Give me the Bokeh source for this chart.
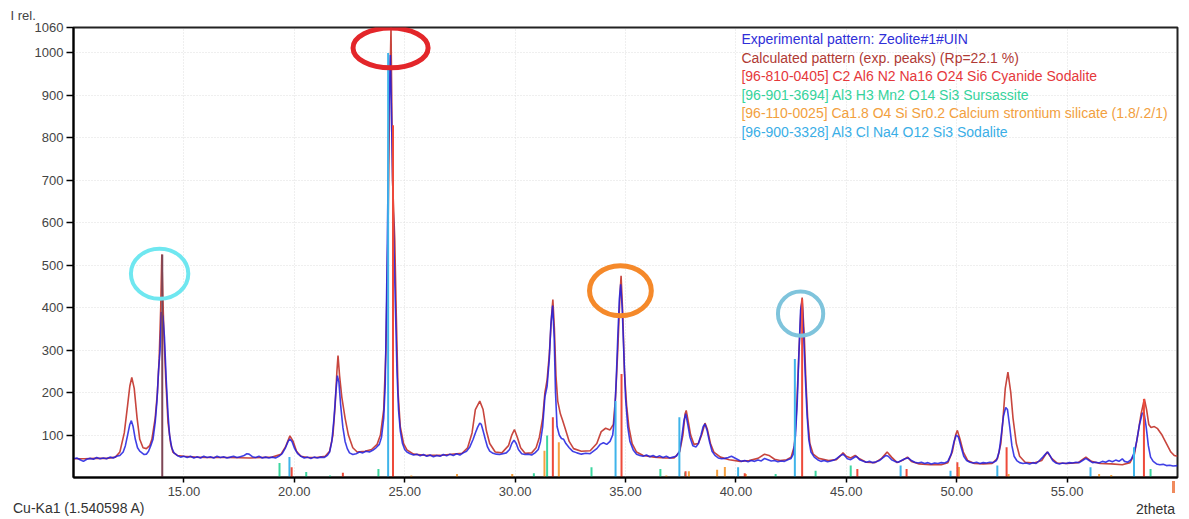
from bokeh.plotting import figure
from bokeh.layouts import column
from bokeh.models import FixedTicker, Label, Range1d, Title, Div
from bokeh.embed import file_html
from bokeh.resources import INLINE

# ---------------- data ----------------
calc_x = [10.0, 10.5, 11.0, 11.5, 11.9, 12.1, 12.3, 12.45, 12.55, 12.64, 12.75, 12.88, 13.0, 13.15, 13.3,
          13.45, 13.55, 13.7, 13.8, 13.88, 13.95, 14.0, 14.05, 14.1, 14.18, 14.28, 14.4, 14.5, 14.7, 15.0,
          15.5, 16.0, 17.0, 18.0, 19.0, 19.4, 19.6, 19.8, 19.95, 20.1, 20.3, 20.6, 21.0, 21.4, 21.6,
          21.75, 21.85, 21.93, 21.98, 22.05, 22.15, 22.3, 22.45, 22.65, 22.85, 23.2, 23.5, 23.75, 23.9, 24.05,
          24.15, 24.25, 24.32, 24.38, 24.45, 24.55, 24.62, 24.7, 24.8, 24.95, 25.1, 25.4, 26.0, 26.62, 27.0,
          27.6, 27.85, 28.05, 28.2, 28.4, 28.55, 28.7, 28.85, 29.1, 29.4, 29.7, 29.85, 29.97, 30.1, 30.25,
          30.45, 30.75, 30.95, 31.1, 31.25, 31.35, 31.45, 31.55, 31.65, 31.71, 31.78, 31.85, 31.93, 32.05, 32.15,
          32.3, 32.45, 32.65, 33.0, 33.4, 33.7, 33.9, 34.1, 34.3, 34.45, 34.55, 34.65, 34.75, 34.8, 34.88,
          34.95, 35.05, 35.15, 35.3, 35.5, 35.8, 36.3, 36.8, 37.2, 37.45, 37.6, 37.7, 37.75, 37.85, 37.95,
          38.1, 38.3, 38.45, 38.6, 38.7, 38.85, 39.0, 39.3, 39.7, 40.2, 40.6, 41.0, 41.3, 41.5, 41.75,
          42.0, 42.3, 42.5, 42.65, 42.75, 42.85, 42.95, 43.0, 43.1, 43.17, 43.25, 43.35, 43.5, 43.75, 44.2,
          44.55, 44.75, 44.85, 45.0, 45.2, 45.4, 45.6, 45.9, 46.3, 46.6, 46.85, 47.05, 47.3, 47.6, 47.77,
          47.95, 48.3, 48.8, 49.3, 49.6, 49.8, 49.95, 50.03, 50.15, 50.3, 50.5, 50.8, 51.2, 51.6, 51.85,
          52.0, 52.1, 52.2, 52.32, 52.45, 52.55, 52.7, 52.85, 53.1, 53.5, 53.85, 54.1, 54.3, 54.55, 55.0,
          55.5, 55.85, 56.1, 56.5, 57.0, 57.5, 57.85, 58.05, 58.2, 58.35, 58.5, 58.6, 58.7, 58.8, 58.95,
          59.1, 59.3, 59.5, 59.7, 59.85, 60.0]
calc_y = [44, 44, 45, 45, 48, 60, 105, 170, 215, 236, 210, 140, 90, 70, 68,
          75, 90, 140, 200, 280, 400, 525, 420, 330, 230, 130, 80, 60, 52, 50,
          48, 47, 47, 46, 48, 55, 72, 98, 85, 62, 50, 47, 47, 50, 62,
          100, 170, 250, 287, 240, 190, 140, 100, 70, 60, 62, 66, 78, 100, 160,
          300, 600, 900, 1060, 700, 560, 380, 200, 120, 80, 65, 55, 52, 52, 54,
          57, 70, 105, 160, 180, 160, 110, 80, 60, 58, 75, 100, 113, 95, 70,
          57, 58, 70, 95, 140, 200, 230, 290, 380, 419, 350, 240, 180, 150, 135,
          110, 85, 68, 62, 63, 80, 108, 116, 112, 125, 190, 300, 430, 475, 380,
          250, 170, 120, 80, 60, 52, 48, 46, 46, 60, 100, 150, 158, 130, 100,
          78, 80, 100, 128, 115, 80, 60, 48, 42, 38, 40, 45, 55, 52, 43,
          40, 42, 48, 75, 160, 290, 400, 424, 330, 228, 140, 80, 55, 45, 40,
          42, 52, 58, 50, 46, 52, 44, 36, 35, 45, 60, 48, 35, 42, 48,
          38, 32, 30, 30, 35, 60, 100, 111, 90, 60, 40, 33, 32, 33, 45,
          80, 140, 210, 248, 200, 140, 80, 50, 36, 34, 40, 60, 45, 34, 33,
          35, 48, 38, 33, 32, 30, 35, 55, 100, 150, 185, 160, 125, 118, 120,
          115, 100, 80, 60, 52, 50]

exp_x = [10.0, 10.15, 10.3, 10.45, 10.6, 10.75, 10.9, 11.05, 11.2, 11.35, 11.5, 11.65, 11.8, 11.95, 12.1,
         12.25, 12.35, 12.45, 12.55, 12.62, 12.7, 12.8, 12.9, 13.0, 13.1, 13.2, 13.3, 13.4, 13.5, 13.6,
         13.7, 13.78, 13.85, 13.92, 13.98, 14.05, 14.12, 14.2, 14.28, 14.35, 14.45, 14.55, 14.7, 14.85, 15.0,
         15.15, 15.3, 15.45, 15.6, 15.75, 15.9, 16.05, 16.2, 16.35, 16.5, 16.65, 16.8, 16.95, 17.1, 17.25,
         17.4, 17.55, 17.7, 17.85, 17.95, 18.1, 18.25, 18.4, 18.55, 18.7, 18.85, 19.0, 19.15, 19.3, 19.45,
         19.6, 19.72, 19.8, 19.9, 20.0, 20.15, 20.3, 20.45, 20.6, 20.75, 20.9, 21.05, 21.2, 21.35, 21.5,
         21.6, 21.7, 21.8, 21.88, 21.95, 22.02, 22.1, 22.2, 22.3, 22.4, 22.5, 22.65, 22.8, 22.95, 23.1,
         23.25, 23.4, 23.55, 23.7, 23.85, 23.95, 24.05, 24.12, 24.2, 24.28, 24.35, 24.42, 24.5, 24.58, 24.65,
         24.72, 24.8, 24.9, 25.0, 25.1, 25.25, 25.4, 25.55, 25.7, 25.85, 26.0, 26.15, 26.3, 26.45, 26.6,
         26.75, 26.9, 27.05, 27.2, 27.35, 27.5, 27.65, 27.8, 27.95, 28.1, 28.2, 28.3, 28.4, 28.47, 28.55,
         28.65, 28.75, 28.85, 29.0, 29.15, 29.3, 29.45, 29.6, 29.75, 29.85, 29.95, 30.05, 30.15, 30.3, 30.45,
         30.6, 30.75, 30.9, 31.05, 31.15, 31.25, 31.35, 31.45, 31.55, 31.62, 31.7, 31.77, 31.83, 31.9, 32.0,
         32.1, 32.2, 32.3, 32.45, 32.6, 32.8, 33.0, 33.2, 33.4, 33.55, 33.7, 33.85, 34.0, 34.15, 34.3,
         34.42, 34.5, 34.58, 34.65, 34.72, 34.78, 34.85, 34.92, 35.0, 35.1, 35.2, 35.35, 35.5, 35.65, 35.8,
         35.95, 36.1, 36.25, 36.4, 36.55, 36.7, 36.85, 37.0, 37.15, 37.3, 37.45, 37.55, 37.65, 37.73, 37.82,
         37.92, 38.05, 38.2, 38.3, 38.42, 38.52, 38.6, 38.7, 38.8, 38.92, 39.05, 39.2, 39.35, 39.5, 39.65,
         39.8, 39.95, 40.1, 40.25, 40.4, 40.55, 40.7, 40.85, 41.0, 41.15, 41.3, 41.45, 41.6, 41.75, 41.9,
         42.05, 42.2, 42.35, 42.5, 42.6, 42.7, 42.78, 42.86, 42.93, 43.0, 43.07, 43.15, 43.22, 43.3, 43.4,
         43.55, 43.7, 43.85, 44.0, 44.15, 44.3, 44.45, 44.6, 44.75, 44.85, 44.95, 45.05, 45.2, 45.35, 45.45,
         45.6, 45.75, 45.9, 46.05, 46.2, 46.35, 46.5, 46.65, 46.8, 46.9, 47.05, 47.2, 47.35, 47.5, 47.65,
         47.8, 47.95, 48.1, 48.25, 48.4, 48.55, 48.7, 48.85, 49.0, 49.15, 49.3, 49.45, 49.6, 49.75, 49.88,
         49.98, 50.08, 50.2, 50.32, 50.45, 50.6, 50.75, 50.9, 51.05, 51.2, 51.35, 51.5, 51.65, 51.8, 51.92,
         52.02, 52.12, 52.22, 52.3, 52.4, 52.5, 52.6, 52.72, 52.85, 53.0, 53.15, 53.3, 53.45, 53.6, 53.75,
         53.9, 54.02, 54.12, 54.22, 54.35, 54.5, 54.65, 54.8, 54.95, 55.1, 55.25, 55.4, 55.55, 55.7, 55.85,
         56.0, 56.15, 56.3, 56.45, 56.6, 56.75, 56.9, 57.05, 57.2, 57.35, 57.5, 57.6, 57.75, 57.9, 58.05,
         58.15, 58.28, 58.4, 58.48, 58.58, 58.68, 58.78, 58.9, 59.05, 59.2, 59.35, 59.5, 59.65, 59.8, 60.0]
exp_y = [44, 46, 42, 38, 43, 45, 43, 47, 44, 46, 44, 48, 46, 50, 52,
         60, 75, 100, 125, 134, 120, 90, 70, 62, 58, 54, 55, 62, 75, 90,
         130, 180, 250, 300, 390, 380, 330, 230, 150, 100, 70, 58, 52, 48, 50,
         47, 50, 46, 49, 46, 50, 47, 49, 46, 50, 47, 49, 46, 48, 50,
         47, 49, 51, 56, 55, 49, 47, 50, 46, 48, 46, 48, 46, 50, 56,
         70, 85, 91, 84, 70, 56, 50, 46, 48, 45, 48, 46, 48, 47, 52,
         60, 85, 140, 200, 240, 225, 170, 118, 85, 68, 58, 54, 56, 60, 58,
         62, 60, 64, 70, 78, 95, 140, 220, 500, 850, 995, 800, 570, 400, 250,
         160, 110, 80, 66, 60, 56, 53, 55, 51, 54, 50, 53, 49, 52, 50,
         54, 51, 55, 52, 56, 53, 58, 62, 72, 90, 105, 118, 128, 125, 110,
         90, 72, 62, 57, 55, 54, 56, 58, 66, 80, 88, 80, 66, 56, 54,
         55, 53, 58, 66, 85, 120, 190, 215, 280, 360, 405, 330, 200, 120, 100,
         92, 90, 80, 70, 62, 58, 55, 57, 56, 62, 68, 78, 82, 78, 85,
         100, 140, 230, 330, 420, 455, 400, 300, 190, 120, 85, 65, 55, 52, 50,
         53, 49, 52, 48, 51, 47, 50, 46, 48, 50, 62, 95, 135, 150, 125,
         95, 75, 72, 80, 100, 120, 126, 110, 85, 62, 52, 46, 44, 45, 47,
         50, 46, 42, 38, 40, 37, 40, 38, 41, 39, 45, 42, 39, 40, 37,
         39, 38, 42, 45, 55, 100, 180, 300, 395, 416, 330, 230, 150, 90, 60,
         48, 42, 38, 40, 37, 39, 41, 46, 52, 55, 50, 44, 42, 47, 50,
         42, 39, 36, 38, 35, 37, 40, 46, 52, 50, 42, 38, 36, 40, 44,
         46, 40, 36, 34, 36, 33, 35, 32, 34, 33, 35, 34, 38, 55, 85,
         100, 95, 72, 50, 40, 36, 34, 36, 33, 35, 34, 36, 35, 40, 60,
         100, 145, 165, 160, 120, 75, 50, 40, 35, 33, 34, 32, 35, 33, 40,
         48, 55, 60, 52, 40, 34, 32, 34, 33, 35, 34, 36, 35, 40, 45,
         40, 35, 36, 34, 38, 36, 40, 37, 41, 38, 44, 38, 36, 42, 60,
         85, 125, 150, 154, 120, 75, 48, 38, 32, 30, 31, 28, 29, 27, 28]

# reference stick patterns (2theta, relative height)
cyanide_x = [19.88, 22.2, 24.47, 31.71, 34.82, 37.72, 40.4, 43.0, 45.5, 47.73, 50.03, 52.26, 58.48]
cyanide_h = [24, 11, 830, 142, 244, 15, 10, 420, 20, 20, 36, 71, 185]
sursassite_x = [19.33, 20.54, 21.62, 23.81, 30.85, 31.45, 33.46, 36.58, 37.7, 41.8, 43.61, 45.2, 58.78]
sursassite_h = [34, 13, 5, 20, 10, 99, 24, 20, 12, 8, 16, 28, 20]
silicate_x = [25.3, 27.37, 29.87, 31.33, 31.98, 36.85, 37.87, 39.15, 39.5, 40.45, 50.1, 52.35, 56.45, 57.0]
silicate_h = [5, 8, 8, 63, 83, 5, 15, 18, 25, 8, 25, 8, 8, 6]
sodalite_x = [19.78, 24.25, 34.55, 37.44, 40.1, 42.67, 47.46, 49.72, 51.84, 56.06, 58.03]
sodalite_h = [48, 1000, 180, 142, 24, 279, 28, 16, 28, 24, 71]
calc_peak_x = [14.02]
calc_peak_h = [525]

# hand-drawn highlight ellipses (centre, size in data units)
ring_x = [13.9, 24.36, 34.77, 42.93]
ring_y = [480, 1012, 440, 386]
ring_w = [2.6, 3.4, 2.8, 2.05]
ring_h = [118, 94, 118, 104]
ring_colors = ["#6FE7F0", "#E3262A", "#F5892A", "#7FC4DC"]
ring_widths = [4, 5, 5, 4]

x_ticks = [15, 20, 25, 30, 35, 40, 45, 50, 55]
y_ticks = [100, 200, 300, 400, 500, 600, 700, 800, 900, 1000, 1060]

legend_lines = [
    ("Experimental pattern: Zeolite#1#UIN", "#2F2FD8"),
    ("Calculated pattern (exp. peaks) (Rp=22.1 %)", "#B03A34"),
    ("[96-810-0405] C2 Al6 N2 Na16 O24 Si6 Cyanide Sodalite", "#E5383B"),
    ("[96-901-3694] Al3 H3 Mn2 O14 Si3  Sursassite", "#36D39C"),
    ("[96-110-0025] Ca1.8 O4 Si Sr0.2 Calcium strontium silicate (1.8/.2/1)", "#F2A03E"),
    ("[96-900-3328] Al3 Cl Na4 O12 Si3  Sodalite", "#3AAEE6"),
]

FONT = "Liberation Sans"

p = figure(width=1181, height=502, output_backend="svg", toolbar_location=None,
           x_range=Range1d(10, 60), y_range=Range1d(0, 1060),
           min_border_left=73, min_border_right=4, min_border_top=27, min_border_bottom=25)
p.background_fill_color = "white"
p.border_fill_color = "white"
p.outline_line_color = "#222222"
p.outline_line_width = 2

for ax, ticks in ((p.xaxis[0], x_ticks), (p.yaxis[0], y_ticks)):
    ax.ticker = FixedTicker(ticks=ticks)
    ax.minor_tick_line_color = None
    ax.axis_line_color = "black"
    ax.axis_line_width = 2
    ax.major_tick_line_color = "black"
    ax.major_tick_line_width = 1.5
    ax.major_tick_in = 0
    ax.major_label_text_font = FONT
    ax.major_label_text_font_size = "13px"
    ax.major_label_text_color = "#444444"
p.xaxis[0].major_tick_out = 5
p.yaxis[0].major_tick_out = 7
p.xaxis[0].major_label_standoff = 4
p.yaxis[0].major_label_standoff = 3
p.xaxis[0].major_label_overrides = {t: "%.2f" % t for t in x_ticks}

p.xgrid.ticker = FixedTicker(ticks=x_ticks)
p.ygrid.ticker = FixedTicker(ticks=y_ticks)
for g in (p.xgrid, p.ygrid):
    g.grid_line_color = "#dedede"
    g.grid_line_dash = "1 2"
    g.grid_line_width = 1

# profiles
p.line(calc_x, calc_y, line_color="#C8463E", line_width=1.6)
p.line(exp_x, exp_y, line_color="#1E1EE0", line_width=1.6, line_alpha=0.85)

# stick patterns
def sticks(xs, hs, color, w=2):
    p.segment(x0=xs, y0=[0] * len(xs), x1=xs, y1=hs, line_color=color, line_width=w)

sticks(calc_peak_x, calc_peak_h, "#7E4656", 2)
sticks(sursassite_x, sursassite_h, "#3DD6A0")
sticks(silicate_x, silicate_h, "#F5A040")
sticks(sodalite_x, sodalite_h, "#3FB4EA")
sticks(cyanide_x, cyanide_h, "#EE4A3A")

# highlight rings
for cx, cy, w, h, c, lw in zip(ring_x, ring_y, ring_w, ring_h, ring_colors, ring_widths):
    p.ellipse(x=[cx], y=[cy], width=[w], height=[h], fill_alpha=0, line_color=c, line_width=lw)

# legend text
for i, (txt, col) in enumerate(legend_lines):
    p.add_layout(Label(x=40.25, y=1032 - i * 43.5, text=txt, text_color=col, text_font=FONT,
                       text_font_size="14px", text_baseline="middle"))

# y-axis caption above the frame
p.add_layout(Title(text="I rel.", align="left", offset=-63, standoff=10, text_font=FONT,
                   text_font_size="13px", text_font_style="normal", text_color="#444444"), "above")

# bottom caption strip (wavelength on the left, axis name on the right)
caption_html = (
    '<div style="position:relative;width:1181px;height:17px;font-family:\'Liberation Sans\';'
    'font-size:14px;line-height:16px;color:#333333;">'
    '<span style="position:absolute;left:1172px;top:-21px;width:3px;height:12px;background:#F08A5D;"></span>'
    '<span style="position:absolute;left:13px;top:-2px;white-space:nowrap;">Cu-Ka1 (1.540598 A)</span>'
    '<span style="position:absolute;right:6px;top:-1px;white-space:nowrap;">2theta</span>'
    '</div>'
)
caption = Div(text=caption_html, width=1181, height=17, margin=0)

layout = column(p, caption, spacing=0)
open("out.html", "w").write(file_html(layout, INLINE))
